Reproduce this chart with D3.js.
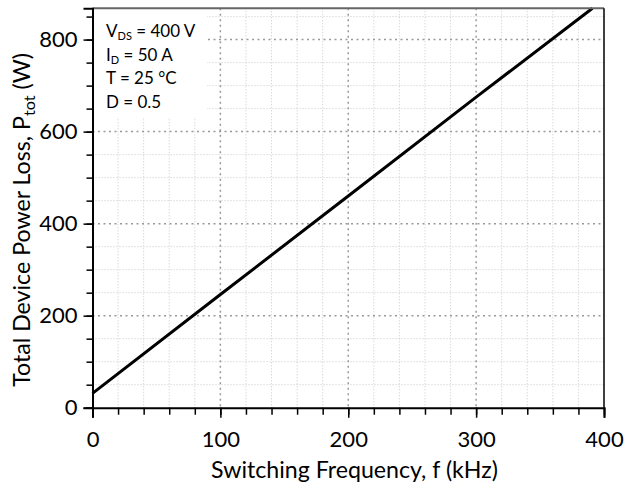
<!DOCTYPE html>
<html>
<head>
<meta charset="utf-8">
<script src="https://cdn.jsdelivr.net/npm/d3@7"></script>
<style>
html,body{margin:0;padding:0;background:#fff;}
svg{display:block;}
text{font-family:Lato,"Open Sans",sans-serif;fill:#000;}
</style>
</head>
<body>
<svg id="chart" width="637" height="489"></svg>
<script>
// Data
const freq = [0, 100, 200, 300, 391];          // kHz
const ptot = [31, 246, 460, 675, 868];          // W
const xTicks = [0, 100, 200, 300, 400];
const yTicks = [0, 200, 400, 600, 800];
const xMinor = d3.range(0, 401, 20);
const yMinor = d3.range(0, 851, 50);
const legendLines = [
  {main: "V", sub: "DS", rest: " = 400 V"},
  {main: "I", sub: "D", rest: " = 50 A"},
  {main: "T = 25 °C", sub: "", rest: ""},
  {main: "D = 0.5", sub: "", rest: ""}
];

const svg = d3.select("#chart");
const L = 92.5, R = 604, T = 8.3, B = 407.7;
const x = d3.scaleLinear().domain([0, 400]).range([L, R]);
const y = d3.scaleLinear().domain([0, 868]).range([B, T]);

// minor grid
const g = svg.append("g");
g.selectAll(".vmin").data(xMinor.filter(d => d % 100 !== 0)).join("line")
  .attr("x1", d => x(d)).attr("x2", d => x(d)).attr("y1", T).attr("y2", B)
  .attr("stroke", "#c8c8c8").attr("stroke-width", 1).attr("stroke-dasharray", "1,2");
g.selectAll(".hmin").data(yMinor.filter(d => d % 200 !== 0)).join("line")
  .attr("x1", L).attr("x2", R).attr("y1", d => y(d)).attr("y2", d => y(d))
  .attr("stroke", "#c8c8c8").attr("stroke-width", 1).attr("stroke-dasharray", "1,2");
// major grid
g.selectAll(".vmaj").data(xTicks.filter(d => d > 0 && d < 400)).join("line")
  .attr("x1", d => x(d)).attr("x2", d => x(d)).attr("y1", T).attr("y2", B)
  .attr("stroke", "#999").attr("stroke-width", 1.5).attr("stroke-dasharray", "2,3.5");
g.selectAll(".hmaj").data(yTicks.filter(d => d > 0)).join("line")
  .attr("x1", L).attr("x2", R).attr("y1", d => y(d)).attr("y2", d => y(d))
  .attr("stroke", "#999").attr("stroke-width", 1.5).attr("stroke-dasharray", "2,3.5");

// legend white box
svg.append("rect").attr("x", L + 1).attr("y", T + 1).attr("width", 207 - L - 1).attr("height", 117 - T - 1)
  .attr("fill", "#fff");

// line
svg.append("path").datum(freq.map((f, i) => [f, ptot[i]]))
  .attr("d", d3.line().x(d => x(d[0])).y(d => y(d[1])))
  .attr("fill", "none").attr("stroke", "#000").attr("stroke-width", 3);

// borders
svg.append("line").attr("x1", L).attr("x2", R).attr("y1", T).attr("y2", T).attr("stroke", "#666").attr("stroke-width", 2);
svg.append("line").attr("x1", R).attr("x2", R).attr("y1", T).attr("y2", B).attr("stroke", "#000").attr("stroke-width", 1.5);

// axes
const xAxis = svg.append("g").attr("transform", `translate(0,${B})`);
xAxis.call(d3.axisBottom(x).tickValues(xMinor).tickSize(7).tickFormat(""));
xAxis.call(g2 => g2.select(".domain").remove());
const xMaj = svg.append("g").attr("transform", `translate(0,${B})`)
  .call(d3.axisBottom(x).tickValues(xTicks).tickSize(10).tickPadding(14).tickFormat(d3.format("d")));
xMaj.selectAll(".tick text").attr("font-size", 22).style("font-family", "Lato");
xMaj.select(".domain").attr("stroke-width", 2);

const yAxis = svg.append("g").attr("transform", `translate(${L},0)`);
yAxis.call(d3.axisLeft(y).tickValues(yMinor).tickSize(6).tickFormat(""));
yAxis.call(g2 => g2.select(".domain").remove());
const yMaj = svg.append("g").attr("transform", `translate(${L},0)`)
  .call(d3.axisLeft(y).tickValues(yTicks).tickSize(9).tickPadding(6).tickFormat(d3.format("d")));
yMaj.selectAll(".tick text").attr("font-size", 22).style("font-family", "Lato");
yMaj.select(".domain").attr("stroke-width", 2);
svg.selectAll(".tick line").attr("stroke", "#000").attr("stroke-width", 1.5);
svg.selectAll(".domain").attr("stroke", "#000");

// axis titles, sized to match the reference's text extents
function fit(sel, base, target) {
  const len = sel.node().getComputedTextLength();
  const k = target / len;
  sel.attr("font-size", base * k);
  sel.selectAll("tspan").each(function () {
    const fs = d3.select(this).attr("font-size");
    if (fs) d3.select(this).attr("font-size", +fs * k);
    const dy = d3.select(this).attr("dy");
    if (dy) d3.select(this).attr("dy", +dy * k);
  });
}
const xt = svg.append("text").attr("x", 354.5).attr("y", 478).attr("text-anchor", "middle")
  .attr("font-size", 20).text("Switching Frequency, f (kHz)");
fit(xt, 20, 287);
const yt = svg.append("text").attr("transform", `translate(30,220) rotate(-90)`)
  .attr("text-anchor", "middle").attr("font-size", 20);
yt.append("tspan").text("Total Device Power Loss, P");
yt.append("tspan").attr("dy", 4).attr("font-size", 14).text("tot");
yt.append("tspan").attr("dy", -4).text(" (W)");
fit(yt, 20, 334);

// legend text
legendLines.forEach((ln, i) => {
  const t = svg.append("text").attr("x", 106).attr("y", 37 + i * 23.5).attr("font-size", 17);
  t.append("tspan").text(ln.main);
  if (ln.sub) {
    t.append("tspan").attr("dy", 3).attr("font-size", 11).text(ln.sub);
    t.append("tspan").attr("dy", -3).text(ln.rest);
  }
});
</script>
</body>
</html>
